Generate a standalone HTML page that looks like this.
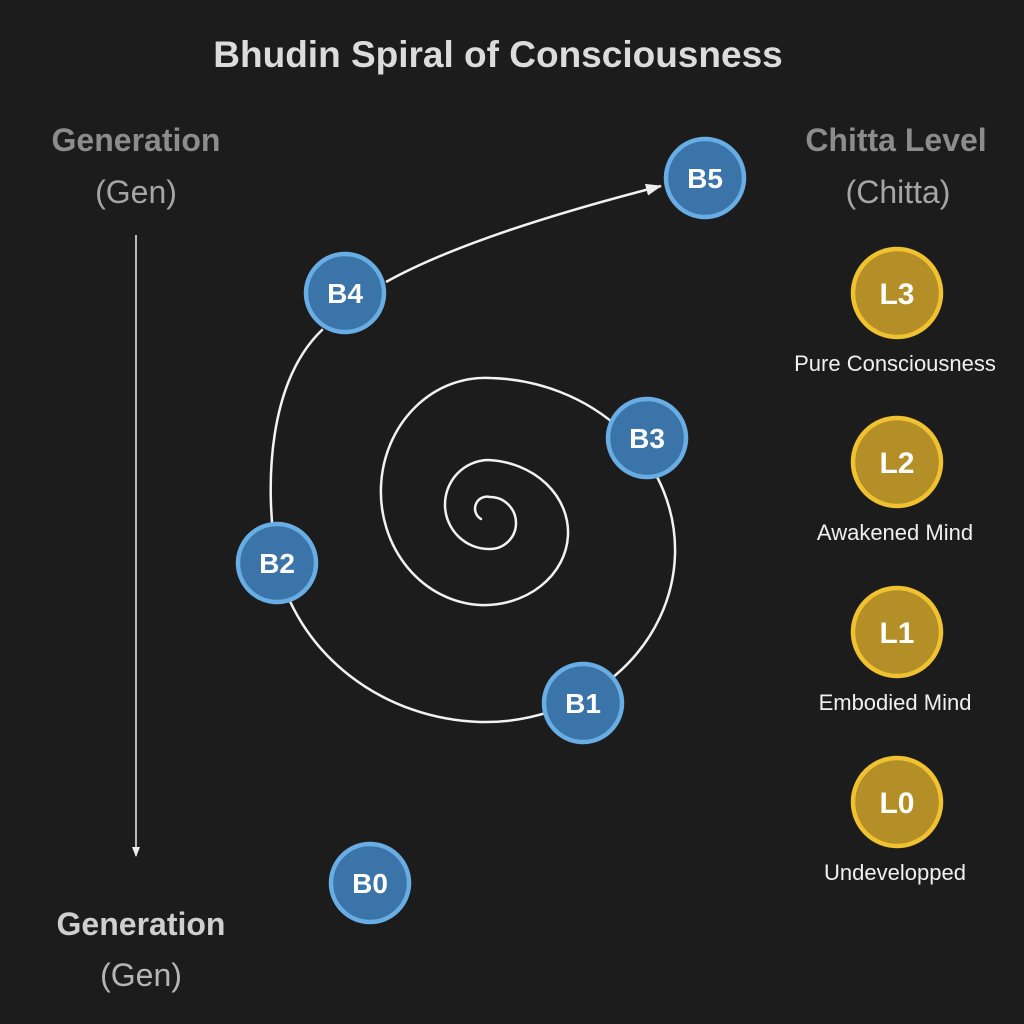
<!DOCTYPE html>
<html><head><meta charset="utf-8"><style>
html,body{margin:0;padding:0;background:#1c1c1d;}
svg{display:block;font-family:"Liberation Sans",sans-serif;}
</style></head><body>
<svg width="1024" height="1024" viewBox="0 0 1024 1024">
<rect width="1024" height="1024" fill="#1c1c1d"/>
<defs><marker id="ah" markerWidth="10" markerHeight="10" refX="9" refY="5" orient="auto" markerUnits="userSpaceOnUse"><path d="M0,1 L10,5 L0,9 Z" fill="#eee"/></marker>
<marker id="ah2" markerWidth="16" markerHeight="12" refX="15" refY="6" orient="auto" markerUnits="userSpaceOnUse"><path d="M0,0 L16,6 L0,12 Z" fill="#eee"/></marker></defs>
<text x="498" y="67" text-anchor="middle" font-size="37" font-weight="bold" fill="#dcdcdc">Bhudin Spiral of Consciousness</text>
<text x="136" y="151" text-anchor="middle" font-size="32" font-weight="bold" fill="#8c8c8c">Generation</text>
<text x="136" y="203" text-anchor="middle" font-size="32" fill="#a5a5a5">(Gen)</text>
<line x1="136" y1="235" x2="136" y2="856" stroke="#eee" stroke-width="1.5" marker-end="url(#ah)"/>
<text x="141" y="935" text-anchor="middle" font-size="32" font-weight="bold" fill="#cfcfcf">Generation</text>
<text x="141" y="986" text-anchor="middle" font-size="32" fill="#b5b5b5">(Gen)</text>
<text x="896" y="151" text-anchor="middle" font-size="32" font-weight="bold" fill="#8c8c8c">Chitta Level</text>
<text x="898" y="203" text-anchor="middle" font-size="32" fill="#a5a5a5">(Chitta)</text>
<path fill="none" stroke="#f2f2f2" stroke-width="2.5" stroke-linecap="round"
 d="M481,519 A12,12 0 0 1 490,497 A26,26 0 0 1 490,549 A44,44.5 0 0 1 488,460 A84,72.5 0 0 1 480,605 A104,113.5 0 0 1 490,378 A190,172 0 0 1 480,722 A215,200 0 0 1 277,563 C263,480 270,380 322,330"/>
<path fill="none" stroke="#f2f2f2" stroke-width="2.5" marker-end="url(#ah2)" d="M386,282 Q470,235 661,186"/>
<g id="nodes"></g>
</svg>
<script>
const bNodes=[["B0",370,883],["B1",583,703],["B2",277,563],["B3",647,438],["B4",345,293],["B5",705,178]];
const lNodes=[["L3",897,293,"Pure Consciousness"],["L2",897,462,"Awakened Mind"],["L1",897,632,"Embodied Mind"],["L0",897,802,"Undevelopped"]];
const NS="http://www.w3.org/2000/svg",g=document.getElementById('nodes');
function mk(t,a){const e=document.createElementNS(NS,t);for(const k in a)e.setAttribute(k,a[k]);return e;}
bNodes.forEach(n=>{const grp=mk('g',{});


grp.appendChild(mk('circle',{cx:n[1],cy:n[2],r:39,fill:'#3b74a8',stroke:'#68aee5','stroke-width':4.5}));
const t=mk('text',{x:n[1],y:n[2]+10,'text-anchor':'middle','font-size':28,'font-weight':'bold',fill:'#fff'});t.textContent=n[0];grp.appendChild(t);g.appendChild(grp);});
lNodes.forEach(n=>{const grp=mk('g',{});


grp.appendChild(mk('circle',{cx:n[1],cy:n[2],r:44,fill:'#b48f27',stroke:'#f0c22f','stroke-width':4.5}));
const t=mk('text',{x:n[1],y:n[2]+11,'text-anchor':'middle','font-size':30,'font-weight':'bold',fill:'#fff'});t.textContent=n[0];grp.appendChild(t);
const l=mk('text',{x:n[1]-2,y:n[2]+78,'text-anchor':'middle','font-size':22,fill:'#f0f0f0'});l.textContent=n[3];grp.appendChild(l);
g.appendChild(grp);});
</script>
</body></html>
